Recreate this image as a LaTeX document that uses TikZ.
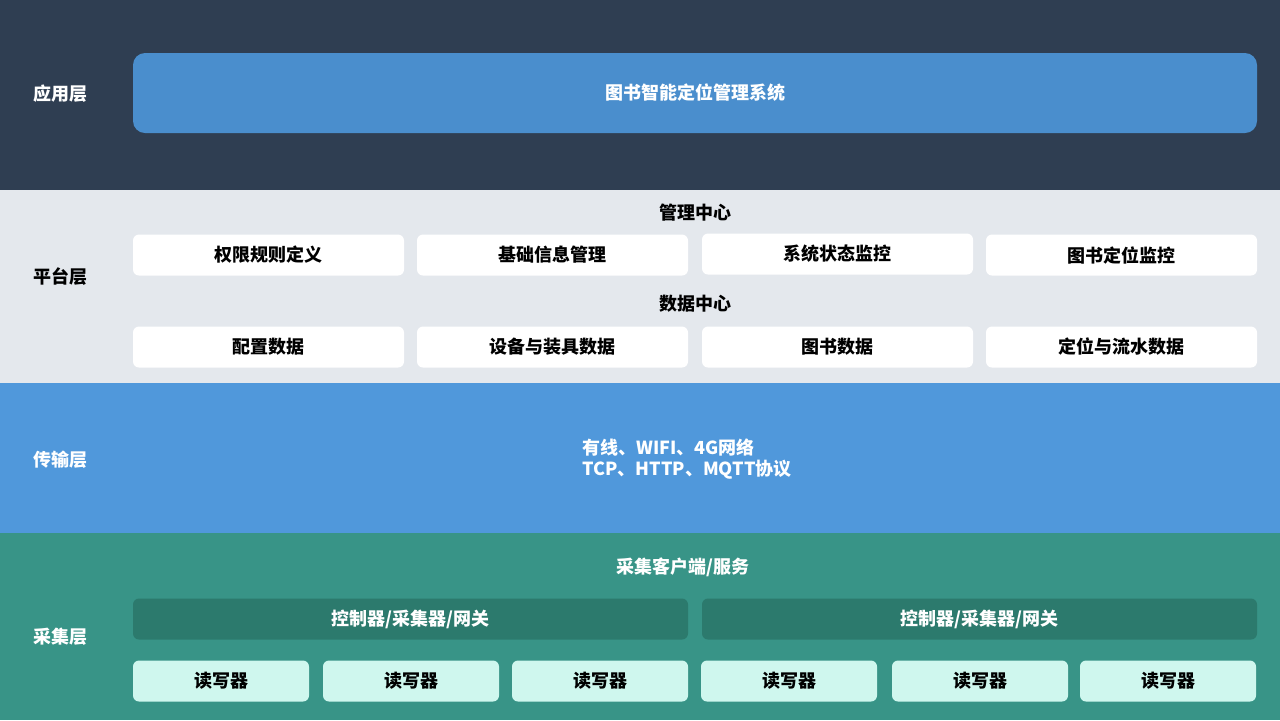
\documentclass[tikz,border=0pt]{standalone}
\usepackage{fontspec}
\setmainfont{Noto Sans CJK SC}
\usetikzlibrary{positioning}
\definecolor{appbg}{HTML}{2F3E52}
\definecolor{appbox}{HTML}{4A8ECD}
\definecolor{platbg}{HTML}{E4E8ED}
\definecolor{tranbg}{HTML}{5098DB}
\definecolor{colbg}{HTML}{389487}
\definecolor{gatebox}{HTML}{2C7A6D}
\definecolor{readbox}{HTML}{CFF7EE}
\tikzset{
  x=0.5pt,y=-0.5pt,
  every node/.style={font=\fontsize{9}{10.5}\selectfont\bfseries},
  layerlbl/.style={anchor=west},
  platbox/.style={fill=white,rounded corners=3pt,minimum width=135.5pt,minimum height=20.5pt,inner sep=0pt},
  gatebar/.style={fill=gatebox,text=white,rounded corners=3pt,minimum width=277.5pt,minimum height=20.5pt,inner sep=0pt},
  readerbox/.style={fill=readbox,rounded corners=3pt,minimum width=88pt,minimum height=20.5pt,inner sep=0pt}
}
\begin{document}
\begin{tikzpicture}
  % layers
  \fill[appbg] (0,0) rectangle (1280,190);
  \fill[platbg] (0,190) rectangle (1280,383);
  \fill[tranbg] (0,383) rectangle (1280,533);
  \fill[colbg] (0,533) rectangle (1280,720);
  \node[layerlbl,text=white] (lapp) at (26,94) {应用层};
  \node[layerlbl] (lplat) at (26,277) {平台层};
  \node[layerlbl,text=white] (ltran) at (26,460) {传输层};
  \node[layerlbl,text=white] (lcol) at (26,637) {采集层};
  % application
  \node[fill=appbox,text=white,rounded corners=6pt,minimum width=562pt,minimum height=40pt,inner sep=0pt] (sys) at (695,93) {图书智能定位管理系统};
  % platform
  \node (mgr) at (695,213) {管理中心};
  \node[platbox] (m1) at (268.5,255) {权限规则定义};
  \node[platbox] (m2) at (552.5,255) {基础信息管理};
  \node[platbox] (m3) at (837.5,254) {系统状态监控};
  \node[platbox] (m4) at (1121.5,255) {图书定位监控};
  \node (dat) at (695,304) {数据中心};
  \node[platbox] (d1) at (268.5,347) {配置数据};
  \node[platbox] (d2) at (552.5,347) {设备与装具数据};
  \node[platbox] (d3) at (837.5,347) {图书数据};
  \node[platbox] (d4) at (1121.5,347) {定位与流水数据};
  % transport
  \node[text=white,align=left] (net) at (687,459) {有线、WIFI、4G网络\\TCP、HTTP、MQTT协议};
  % collection
  \node[text=white] (cli) at (683,567) {采集客户端/服务};
  \node[gatebar] (g1) at (410.5,619) {控制器/采集器/网关};
  \node[gatebar] (g2) at (979.5,619) {控制器/采集器/网关};
  \foreach \i/\cx in {1/221,2/411,3/600,4/789,5/980,6/1168}
    \node[readerbox] (r\i) at (\cx,681) {读写器};
\end{tikzpicture}
\end{document}
